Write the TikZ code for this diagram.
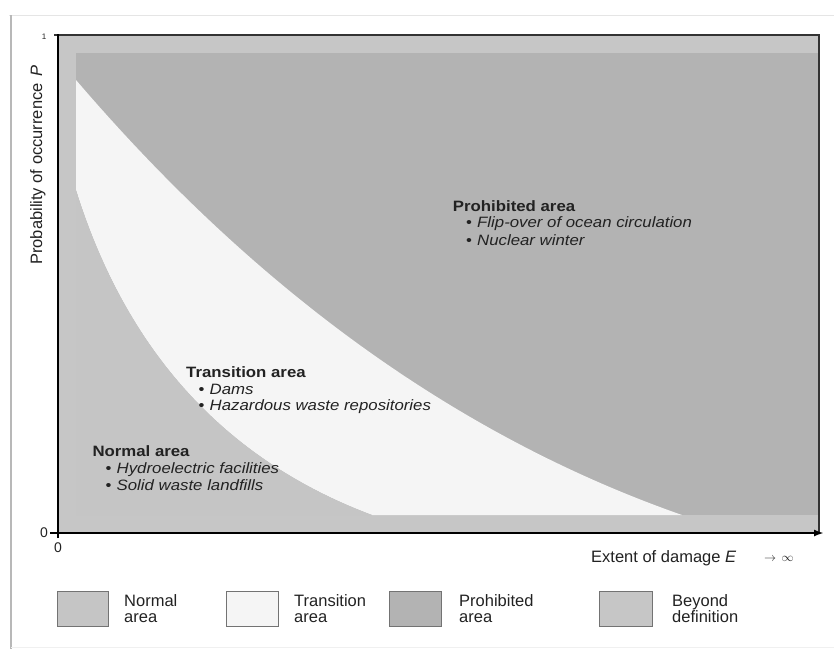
\documentclass[tikz,border=0pt]{standalone}
\usepackage{fontspec}
\setmainfont{Liberation Sans}
\newfontfamily\plotfont[FakeStretch=1.12]{Liberation Sans}
\usetikzlibrary{arrows.meta}

\definecolor{beyondgray}{HTML}{C6C6C6}
\definecolor{normalgray}{HTML}{C5C5C5}
\definecolor{prohibgray}{HTML}{B3B3B3}
\definecolor{transwhite}{HTML}{F5F5F5}
\definecolor{inkgray}{HTML}{222222}

\begin{document}
\begin{tikzpicture}[x=1pt,y=-1pt,
  heading/.style={font=\plotfont\bfseries\fontsize{15}{17}\selectfont, anchor=base west, inner sep=0pt, text=inkgray},
  item/.style={font=\plotfont\itshape\fontsize{15}{17}\selectfont, anchor=base west, inner sep=0pt, text=inkgray},
  legendtext/.style={font=\fontsize{16.5}{16}\selectfont, anchor=base west, inner sep=0pt, text=inkgray},
  legendbox/.style={draw=black!55, line width=1pt},
  axislabel/.style={font=\fontsize{16.5}{18}\selectfont, inner sep=0pt, text=inkgray},
  ticklabel/.style={font=\fontsize{14}{14}\selectfont, inner sep=0pt, text=inkgray}]
\useasboundingbox (0,0) rectangle (834,649);

% sheet edges
\draw[black!10, line width=1pt] (9,15.5) -- (834,15.5);
\draw[black!28, line width=1.6pt] (11,15) -- (11,649);
\draw[black!6, line width=0.8pt] (11,647.5) -- (834,647.5);

% key points of the chart
\coordinate (origin) at (58,533);
\coordinate (ytop) at (58,34);
\coordinate (ybelow) at (58,538);
\coordinate (xleft) at (50,533);
\coordinate (xend) at (824,533);
\coordinate (topleft) at (54,35);
\coordinate (topright) at (819,35);
\coordinate (botright) at (819,533);

% beyond definition band and prohibited area
\fill[beyondgray] (58,35) rectangle (819,533);
\fill[prohibgray] (76,53) rectangle (819,515);
% transition area between the two limit curves
\fill[transwhite] (76,80) .. controls (257.3,292) and (459.3,437) .. (682,515)
  -- (372,515) .. controls (225.2,459.9) and (126.5,351.6) .. (76,190) -- cycle;
% normal area below the lower curve
\fill[normalgray] (76,190) .. controls (126.5,351.6) and (225.2,459.9) .. (372,515)
  -- (76,515) -- cycle;

% frame and axes
\draw[black!80, line width=1.3pt] (topleft) -- (topright) -- (botright);
\draw[black, line width=2.2pt] (ybelow) -- (ytop);
\draw[black, line width=2pt, -{Latex[length=10pt,width=7pt]}] (xleft) -- (xend);

% tick labels
\node[ticklabel] (yzero) at (44,533) {0};
\node[ticklabel] (xzero) at (58,548) {0};
\node[ticklabel, font=\fontsize{8}{8}\selectfont] (yone) at (44,37) {1};

% axis titles
\node[axislabel, rotate=90, anchor=base east] (ylab) at (42,65)
  {Probability of occurrence\hspace{7pt}\textit{P}};
\node[axislabel, anchor=base west] (xlab) at (591,562) {Extent of damage \textit{E}};
\node[axislabel, font=\fontsize{12}{12}\selectfont, anchor=base west] (xinf) at (764,561) {$\to\,\infty$};

% area captions
\node[heading] (proh) at (452.7,211.7) {Prohibited area};
\node[item] (proh1) at (466,227.5) {\makebox[11pt][l]{\upshape\textbullet}Flip-over of ocean circulation};
\node[item] (proh2) at (466,245) {\makebox[11pt][l]{\upshape\textbullet}Nuclear winter};

\node[heading] (trans) at (186,377.7) {Transition area};
\node[item] (trans1) at (198.5,394) {\makebox[11pt][l]{\upshape\textbullet}Dams};
\node[item] (trans2) at (198.5,410.5) {\makebox[11pt][l]{\upshape\textbullet}Hazardous waste repositories};

\node[heading] (norm) at (92.3,456) {Normal area};
\node[item] (norm1) at (105.5,473.3) {\makebox[11pt][l]{\upshape\textbullet}Hydroelectric facilities};
\node[item] (norm2) at (105.5,490) {\makebox[11pt][l]{\upshape\textbullet}Solid waste landfills};

% legend
\draw[legendbox, fill=normalgray] (57,591) rectangle (108,626);
\node[legendtext] (lnorma) at (124,606.5) {Normal};
\node[legendtext] (lnormb) at (124,622) {area};

\draw[legendbox, fill=transwhite] (226,591) rectangle (278,626);
\node[legendtext] (ltransa) at (294,606.5) {Transition};
\node[legendtext] (ltransb) at (294,622) {area};

\draw[legendbox, fill=prohibgray] (389,591) rectangle (441,626);
\node[legendtext] (lproha) at (459,606.5) {Prohibited};
\node[legendtext] (lprohb) at (459,622) {area};

\draw[legendbox, fill=beyondgray] (599,591) rectangle (652,626);
\node[legendtext] (lbeyonda) at (672,606.5) {Beyond};
\node[legendtext] (lbeyondb) at (672,622) {definition};
\end{tikzpicture}
\end{document}
